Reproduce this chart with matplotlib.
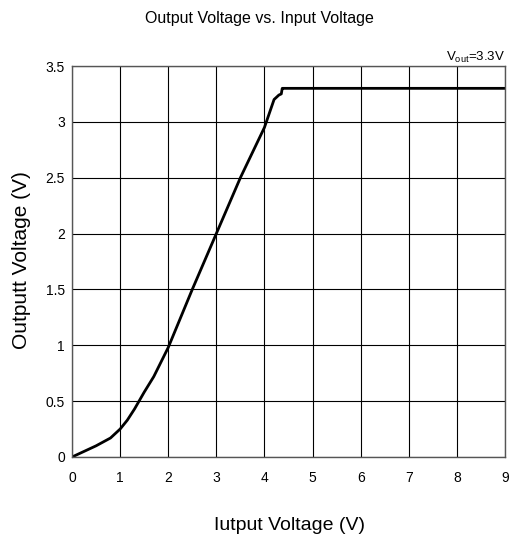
import matplotlib
matplotlib.use("Agg")
import matplotlib.pyplot as plt

plt.rcParams['font.family'] = ['Liberation Sans', 'DejaVu Sans']

vin = [0, 0.5, 0.8, 1.0, 1.15, 1.3, 1.5, 1.7, 2.0, 2.5, 3.0, 3.5, 4.0, 4.2, 4.3, 4.35, 4.37, 4.4, 9.0]
vout = [0, 0.1, 0.17, 0.25, 0.33, 0.43, 0.58, 0.72, 0.98, 1.5, 2.0, 2.5, 2.95, 3.2, 3.24, 3.25, 3.3, 3.3, 3.3]
xticks = [0, 1, 2, 3, 4, 5, 6, 7, 8, 9]
yticks = [0, 0.5, 1, 1.5, 2, 2.5, 3, 3.5]
yticklabels = ["0", "0.5", "1", "1.5", "2", "2.5", "3", "3.5"]

fig = plt.figure(figsize=(5.18, 5.44), dpi=100)
ax = fig.add_axes([72/518, 1-457/544, (505-72)/518, (457-66)/544])
ax.plot(vin, vout, color='black', lw=2)
ax.set_xlim(0, 9)
ax.set_ylim(0, 3.5)
ax.set_xticks(xticks)
ax.set_yticks(yticks)
ax.set_yticklabels(yticklabels)
ax.grid(True, color='black', lw=0.8)
ax.tick_params(length=0, labelsize=10)
ax.tick_params(axis='x', pad=10)
ax.tick_params(axis='y', pad=5)
for s in ax.spines.values():
    s.set_color('#555555')
    s.set_linewidth(1)
fig.text(289/518, 1-526/544, "Iutput Voltage (V)", ha='center', va='center', fontsize=14)
fig.text(22/518, 1-260/544, "Outputt Voltage (V)", ha='center', va='center', fontsize=15, rotation=90)
fig.text(0.5, 1-18/544, "Output Voltage vs. Input Voltage", ha='center', va='center', fontsize=11.5)
ax.text(1.0, 1.003, r"V$_{\mathregular{out}}$=3.3V", transform=ax.transAxes, ha='right', va='bottom', fontsize=9.5)
fig.savefig("out.png", dpi=100)
